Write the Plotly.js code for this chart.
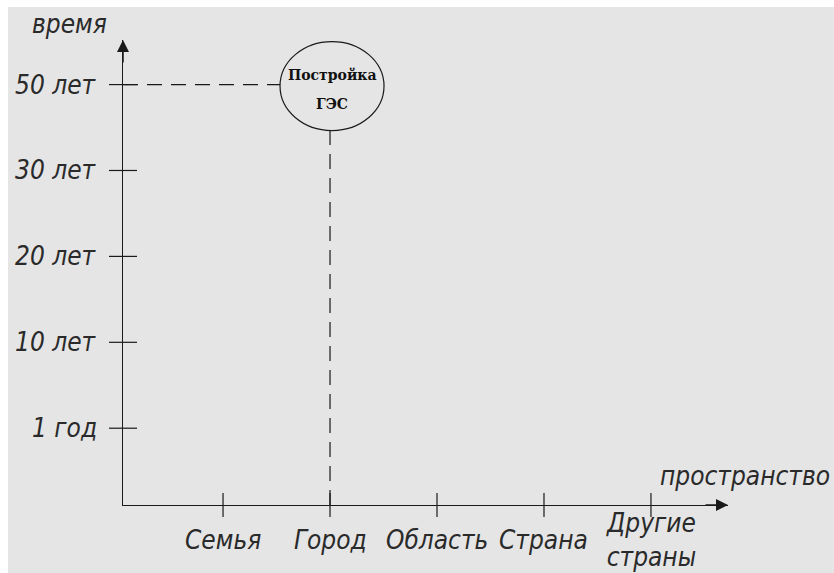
<!DOCTYPE html>
<html>
<head>
<meta charset="utf-8">
<script src="https://cdn.plot.ly/plotly-3.0.1.min.js"></script>
<style>
  html, body { margin: 0; padding: 0; background: #ffffff; width: 834px; height: 573px; overflow: hidden; }
  #chart { position: absolute; left: 8px; top: 7px; width: 826px; height: 566px; }
</style>
</head>
<body>
<div id="chart"></div>
<script>
// ---- data ----
const categories = ['Семья', 'Город', 'Область', 'Страна', 'Другие<br>страны'];
const timeLabels = ['1 год', '10 лет', '20 лет', '30 лет', '50 лет'];
const timeLevels = [1, 2, 3, 4, 5];
const eventCategory = 'Город';
const eventTime = '50 лет';
const eventLabel = ['Постройка', 'ГЭС'];
const yTitle = 'время';
const xTitle = 'пространство';

// ---- derived ----
const catIdx = categories.map((c, i) => i);
const ex = categories.indexOf(eventCategory);
const ey = timeLevels[timeLabels.indexOf(eventTime)];
const xRange = [-0.935, 4.72];
const yRange = [0.106, 5.519];

const BG = '#e5e5e5';
const INK = '#1a1a1a';
const labelFont = { family: 'DejaVu Sans Condensed, DejaVu Sans, sans-serif', size: 26, style: 'italic', weight: 200, color: '#2a2a2a' };
const eventFont = { family: 'DejaVu Serif, serif', size: 14, weight: 'bold', color: '#111' };

const traces = [
  { x: [xRange[0], ex], y: [ey, ey], mode: 'lines', line: { color: INK, width: 1.2, dash: '15px,9px' }, hoverinfo: 'skip' },
  { x: [ex, ex], y: [yRange[0], ey], mode: 'lines', line: { color: INK, width: 1.2, dash: '15px,9px' }, hoverinfo: 'skip' },
  { x: catIdx, y: catIdx.map(() => yRange[0]), mode: 'markers', cliponaxis: false,
    marker: { symbol: 'line-ns-open', size: 17, color: INK, line: { color: INK, width: 1.2 } }, hoverinfo: 'skip' },
  { x: timeLevels.map(() => xRange[0]), y: timeLevels, mode: 'markers', cliponaxis: false,
    marker: { symbol: 'line-ew-open', size: 20, color: INK, line: { color: INK, width: 1.2 } }, hoverinfo: 'skip' }
];

const annotations = [];
// axis arrows
annotations.push({ xref: 'paper', yref: 'paper', x: 0, y: 1, ax: 0, ay: 24, text: '', showarrow: true,
  arrowhead: 2, arrowsize: 1.6, arrowwidth: 1.5, arrowcolor: INK, standoff: 0 });
annotations.push({ xref: 'paper', yref: 'paper', x: 1, y: 0, ax: -24, ay: 0, text: '', showarrow: true,
  arrowhead: 2, arrowsize: 1.6, arrowwidth: 1.5, arrowcolor: INK, standoff: 0 });
// axis titles
annotations.push({ xref: 'paper', yref: 'paper', x: 0, y: 1, xanchor: 'right', yanchor: 'bottom',
  xshift: -14, yshift: -1, text: yTitle, showarrow: false, font: labelFont });
annotations.push({ xref: 'paper', yref: 'paper', x: 1, y: 0, xanchor: 'right', yanchor: 'bottom',
  xshift: 104, yshift: 12, text: xTitle, showarrow: false, font: labelFont });
// y labels
timeLabels.forEach((t, i) => {
  annotations.push({ xref: 'paper', yref: 'y', x: 0, y: timeLevels[i], xanchor: 'right', yanchor: 'middle',
    xshift: -24, text: t, showarrow: false, font: labelFont });
});
// x labels
categories.forEach((c, i) => {
  annotations.push({ xref: 'x', yref: 'paper', x: catIdx[i], y: 0, xanchor: 'center', yanchor: 'middle',
    yshift: -35, text: c, showarrow: false, font: labelFont });
});
// event label
annotations.push({ xref: 'x', yref: 'y', x: ex, y: ey, xshift: 2, yshift: 10, text: eventLabel[0], showarrow: false, font: eventFont });
annotations.push({ xref: 'x', yref: 'y', x: ex, y: ey, xshift: 2, yshift: -19, text: eventLabel[1], showarrow: false, font: eventFont });

const layout = {
  width: 826, height: 566,
  margin: { l: 115, r: 106, t: 33, b: 68, pad: 0 },
  paper_bgcolor: BG, plot_bgcolor: BG,
  showlegend: false,
  xaxis: { range: xRange, showline: true, linecolor: INK, linewidth: 1.3, showgrid: false, zeroline: false,
    showticklabels: false, ticks: '', fixedrange: true },
  yaxis: { range: yRange, showline: true, linecolor: INK, linewidth: 1.3, showgrid: false, zeroline: false,
    showticklabels: false, ticks: '', fixedrange: true },
  shapes: [{ type: 'circle', layer: 'above', xref: 'x', yref: 'y',
    xsizemode: 'pixel', xanchor: ex, x0: -50, x1: 54,
    ysizemode: 'pixel', yanchor: ey, y0: -46, y1: 43,
    fillcolor: BG, line: { color: INK, width: 1.2 } }],
  annotations: annotations
};

Plotly.newPlot('chart', traces, layout, { staticPlot: true, displayModeBar: false });
</script>
</body>
</html>
